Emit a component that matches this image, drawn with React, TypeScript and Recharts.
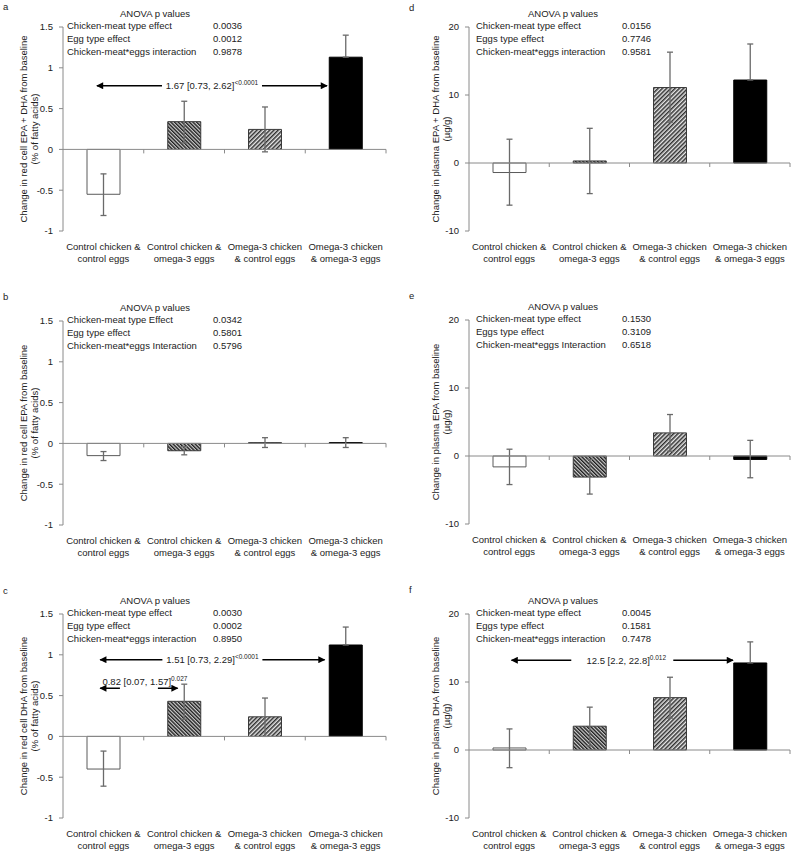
import React from "react";
import { BarChart, Bar, XAxis, YAxis, ErrorBar, Cell, ReferenceLine } from "recharts";

const FONT = '"Liberation Sans", Arial, sans-serif';

const categories = [
  ["Control chicken &", "control eggs"],
  ["Control chicken &", "omega-3 eggs"],
  ["Omega-3 chicken", "& control eggs"],
  ["Omega-3 chicken", "& omega-3 eggs"],
];

const pctTicks = [-1, -0.5, 0, 0.5, 1, 1.5];
const ugTicks = [-10, 0, 10, 20];

// a: red cell EPA + DHA
const aMean = [-0.55, 0.34, 0.245, 1.13];
const aLow = [-0.81, 0.08, -0.03, 1.13];
const aHigh = [-0.3, 0.59, 0.52, 1.4];
// b: red cell EPA
const bMean = [-0.15, -0.09, 0.01, 0.01];
const bLow = [-0.21, -0.14, -0.05, -0.05];
const bHigh = [-0.1, -0.04, 0.07, 0.07];
// c: red cell DHA
const cMean = [-0.4, 0.43, 0.24, 1.12];
const cLow = [-0.61, 0.21, 0.0, 1.12];
const cHigh = [-0.18, 0.64, 0.47, 1.34];
// d: plasma EPA + DHA
const dMean = [-1.4, 0.3, 11.1, 12.2];
const dLow = [-6.2, -4.5, 6.0, 12.2];
const dHigh = [3.5, 5.1, 16.3, 17.5];
// e: plasma EPA
const eMean = [-1.6, -3.1, 3.4, -0.5];
const eLow = [-4.2, -5.6, 0.7, -3.2];
const eHigh = [1.0, -0.5, 6.1, 2.3];
// f: plasma DHA
const fMean = [0.3, 3.5, 7.7, 12.8];
const fLow = [-2.6, 0.6, 4.7, 12.8];
const fHigh = [3.1, 6.3, 10.7, 15.9];

const anovaA = [["Chicken-meat type effect", "0.0036"], ["Egg type effect", "0.0012"], ["Chicken-meat*eggs interaction", "0.9878"]];
const anovaB = [["Chicken-meat type Effect", "0.0342"], ["Egg type effect", "0.5801"], ["Chicken-meat*eggs Interaction", "0.5796"]];
const anovaC = [["Chicken-meat type effect", "0.0030"], ["Egg type effect", "0.0002"], ["Chicken-meat*eggs interaction", "0.8950"]];
const anovaD = [["Chicken-meat type effect", "0.0156"], ["Eggs type effect", "0.7746"], ["Chicken-meat*eggs interaction", "0.9581"]];
const anovaE = [["Chicken-meat type effect", "0.1530"], ["Eggs type effect", "0.3109"], ["Chicken-meat*eggs Interaction", "0.6518"]];
const anovaF = [["Chicken-meat type effect", "0.0045"], ["Eggs type effect", "0.1581"], ["Chicken-meat*eggs interaction", "0.7478"]];

// arrow ends given in category units (0 = left edge, 4 = right edge of plot)
type Arrow = { y: number; from: number; to: number; text: string; sup: string; gap: number; textDx?: number; textDy?: number };

const arrowsA: Arrow[] = [{ y: 0.78, from: 0.42, to: 3.27, text: "1.67 [0.73, 2.62]", sup: "<0.0001", gap: 50 }];
const arrowsC: Arrow[] = [
  { y: 0.94, from: 0.46, to: 3.24, text: "1.51 [0.73, 2.29]", sup: "<0.0001", gap: 50 },
  { y: 0.59, from: 0.46, to: 1.42, text: "0.82 [0.07, 1.57]", sup: "0.027", gap: 19, textDx: 6, textDy: -7 },
];
const arrowsF: Arrow[] = [{ y: 13.2, from: 0.53, to: 3.29, text: "12.5 [2.2, 22.8]", sup: "0.012", gap: 51, textDx: 4 }];

const fills = ["#ffffff", "url(#hatchBack)", "url(#hatchFwd)", "#000000"];
const strokes = ["#5a5a5a", "#3a3a3a", "#3a3a3a", "#000000"];

const PLOT_TOP = 27;
const CHART_H = 290;
const X_H = 59;

function CatTick(props: any) {
  const { x, y, payload } = props;
  const parts = String(payload.value).split("|");
  return (
    <text x={x} y={y} textAnchor="middle" fontSize={9.5} fontFamily={FONT} fill="#222">
      <tspan x={x} dy={19}>{parts[0]}</tspan>
      <tspan x={x} dy={12}>{parts[1]}</tspan>
    </text>
  );
}

function ZeroAxis(props: any) {
  const { x1, x2, y1 } = props;
  const step = (x2 - x1) / 4;
  return (
    <g>
      <line x1={x1} x2={x2} y1={y1} y2={y1} stroke="#8a8a8a" strokeWidth={1} />
      {[1, 2, 3, 4].map((k) => (
        <line key={k} x1={x1 + k * step} x2={x1 + k * step} y1={y1} y2={y1 + 4} stroke="#8a8a8a" strokeWidth={1} />
      ))}
    </g>
  );
}

function makeArrow(a: Arrow) {
  return (props: any) => {
    const { x1, x2, y1 } = props;
    const band = (x2 - x1) / 4;
    const ax1 = x1 + a.from * band;
    const ax2 = x1 + a.to * band;
    const cx = (ax1 + ax2) / 2;
    return (
      <g>
        <line x1={ax1} x2={cx - a.gap} y1={y1} y2={y1} stroke="#000" strokeWidth={1.5} markerStart="url(#arrowHead)" />
        <line x1={cx + a.gap} x2={ax2} y1={y1} y2={y1} stroke="#000" strokeWidth={1.5} markerEnd="url(#arrowHead)" />
        <text x={cx + (a.textDx || 0)} y={y1 + 3.5 + (a.textDy || 0)} textAnchor="middle" fontSize={9.5} fontFamily={FONT} fill="#222">
          {a.text}
          <tspan fontSize={6.5} dy={-4}>{a.sup}</tspan>
        </text>
      </g>
    );
  };
}

type PanelProps = {
  letter: string;
  letterY: number;
  left: number;
  top: number;
  width: number;
  rightMargin: number;
  mean: number[];
  low: number[];
  high: number[];
  ticks: number[];
  yLabel: string[];
  anova: string[][];
  arrows: Arrow[];
  textX: number[];
};

function Panel(p: PanelProps) {
  const data = categories.map((c, i) => ({
    name: c[0] + "|" + c[1],
    mean: p.mean[i],
    err: [p.mean[i] - p.low[i], p.high[i] - p.mean[i]],
  }));
  const plotLeft = 63;
  const plotBottom = CHART_H - X_H;
  const plotMid = (PLOT_TOP + plotBottom) / 2;
  return (
    <div style={{ position: "absolute", left: p.left, top: p.top, width: p.width, height: CHART_H }}>
      <BarChart width={p.width} height={CHART_H} data={data} margin={{ top: PLOT_TOP, right: p.rightMargin, bottom: 0, left: 0 }}>
        <XAxis dataKey="name" height={X_H} axisLine={false} tickLine={false} tickSize={0} tickMargin={0} interval={0} tick={CatTick} />
        <YAxis
          width={plotLeft}
          domain={[p.ticks[0], p.ticks[p.ticks.length - 1]]}
          ticks={p.ticks}
          interval={0}
          stroke="#8a8a8a"
          tickSize={4}
          tickMargin={6}
          tick={{ fontSize: 9.5, fontFamily: FONT, fill: "#222" }}
        />
        <Bar dataKey="mean" barSize={33} isAnimationActive={false}>
          {data.map((d, i) => (
            <Cell key={i} fill={fills[i]} stroke={strokes[i]} strokeWidth={1} />
          ))}
          <ErrorBar dataKey="err" width={3} stroke="#6a6a6a" strokeWidth={1.3} direction="y" />
        </Bar>
        <ReferenceLine y={0} shape={ZeroAxis} />
        {p.arrows.map((a, i) => (
          <ReferenceLine key={"arr" + i} y={a.y} shape={makeArrow(a)} />
        ))}
      </BarChart>
      <svg width={p.width} height={CHART_H} style={{ position: "absolute", left: 0, top: 0, pointerEvents: "none", overflow: "visible" }}>
        <text x={3} y={p.letterY + 3.5} fontSize={9.5} fontFamily={FONT} fill="#222">{p.letter}</text>
        <text x={p.textX[0]} y={PLOT_TOP - 10.5} textAnchor="middle" fontSize={9.5} fontFamily={FONT} fill="#222">ANOVA p values</text>
        {p.anova.map((r, i) => (
          <g key={i}>
            <text x={p.textX[1]} y={PLOT_TOP + 1.5 + i * 13} fontSize={9.5} fontFamily={FONT} fill="#222">{r[0]}</text>
            <text x={p.textX[2]} y={PLOT_TOP + 1.5 + i * 13} fontSize={9.5} fontFamily={FONT} fill="#222">{r[1]}</text>
          </g>
        ))}
        {p.yLabel.map((t, i) => (
          <text
            key={i}
            x={0}
            y={0}
            transform={`translate(${p.textX[3] + i * 11.5}, ${plotMid}) rotate(-90)`}
            textAnchor="middle"
            dominantBaseline="central"
            fontSize={9.5}
            fontFamily={FONT}
            fill="#222"
          >
            {t}
          </text>
        ))}
      </svg>
    </div>
  );
}

const leftText = [155, 67, 213, 23];
const rightText = [157, 70, 216, 29];

export default function App() {
  return (
    <div style={{ position: "absolute", left: 0, top: 0, width: 794, height: 851, background: "#fff" }}>
      <svg width={0} height={0} style={{ position: "absolute" }}>
        <defs>
          <pattern id="hatchBack" patternUnits="userSpaceOnUse" width={2.6} height={2.6} patternTransform="rotate(-45)">
            <rect width={2.6} height={2.6} fill="#cfcfcf" />
            <line x1={0.7} y1={0} x2={0.7} y2={2.6} stroke="#111" strokeWidth={1.3} />
          </pattern>
          <pattern id="hatchFwd" patternUnits="userSpaceOnUse" width={3} height={3} patternTransform="rotate(45)">
            <rect width={3} height={3} fill="#e8e8e8" />
            <line x1={0.8} y1={0} x2={0.8} y2={3} stroke="#111" strokeWidth={1.3} />
          </pattern>
          <marker id="arrowHead" viewBox="0 0 10 10" refX={9} refY={5} markerUnits="userSpaceOnUse" markerWidth={9} markerHeight={7} orient="auto-start-reverse">
            <path d="M0,0 L10,5 L0,10 z" fill="#000" />
          </marker>
        </defs>
      </svg>
      <Panel letter="a" letterY={6} left={0} top={0} width={397} rightMargin={11} mean={aMean} low={aLow} high={aHigh} ticks={pctTicks}
        yLabel={["Change in red cell EPA + DHA from baseline", "(% of fatty acids)"]} anova={anovaA} arrows={arrowsA} textX={leftText} />
      <Panel letter="b" letterY={2} left={0} top={294} width={397} rightMargin={11} mean={bMean} low={bLow} high={bHigh} ticks={pctTicks}
        yLabel={["Change in red cell EPA from baseline", "(% of fatty acids)"]} anova={anovaB} arrows={[]} textX={leftText} />
      <Panel letter="c" letterY={3} left={0} top={587} width={397} rightMargin={11} mean={cMean} low={cLow} high={cHigh} ticks={pctTicks}
        yLabel={["Change in red cell DHA from baseline", "(% of fatty acids)"]} anova={anovaC} arrows={arrowsC} textX={leftText} />
      <Panel letter="d" letterY={7} left={406} top={0} width={388} rightMargin={4} mean={dMean} low={dLow} high={dHigh} ticks={ugTicks}
        yLabel={["Change in plasma EPA + DHA from baseline", "(µg/g)"]} anova={anovaD} arrows={[]} textX={rightText} />
      <Panel letter="e" letterY={2} left={406} top={293} width={388} rightMargin={4} mean={eMean} low={eLow} high={eHigh} ticks={ugTicks}
        yLabel={["Change in plasma EPA from baseline", "(µg/g)"]} anova={anovaE} arrows={[]} textX={rightText} />
      <Panel letter="f" letterY={2} left={406} top={587} width={388} rightMargin={4} mean={fMean} low={fLow} high={fHigh} ticks={ugTicks}
        yLabel={["Change in plasma DHA from baseline", "(µg/g)"]} anova={anovaF} arrows={arrowsF} textX={rightText} />
    </div>
  );
}
